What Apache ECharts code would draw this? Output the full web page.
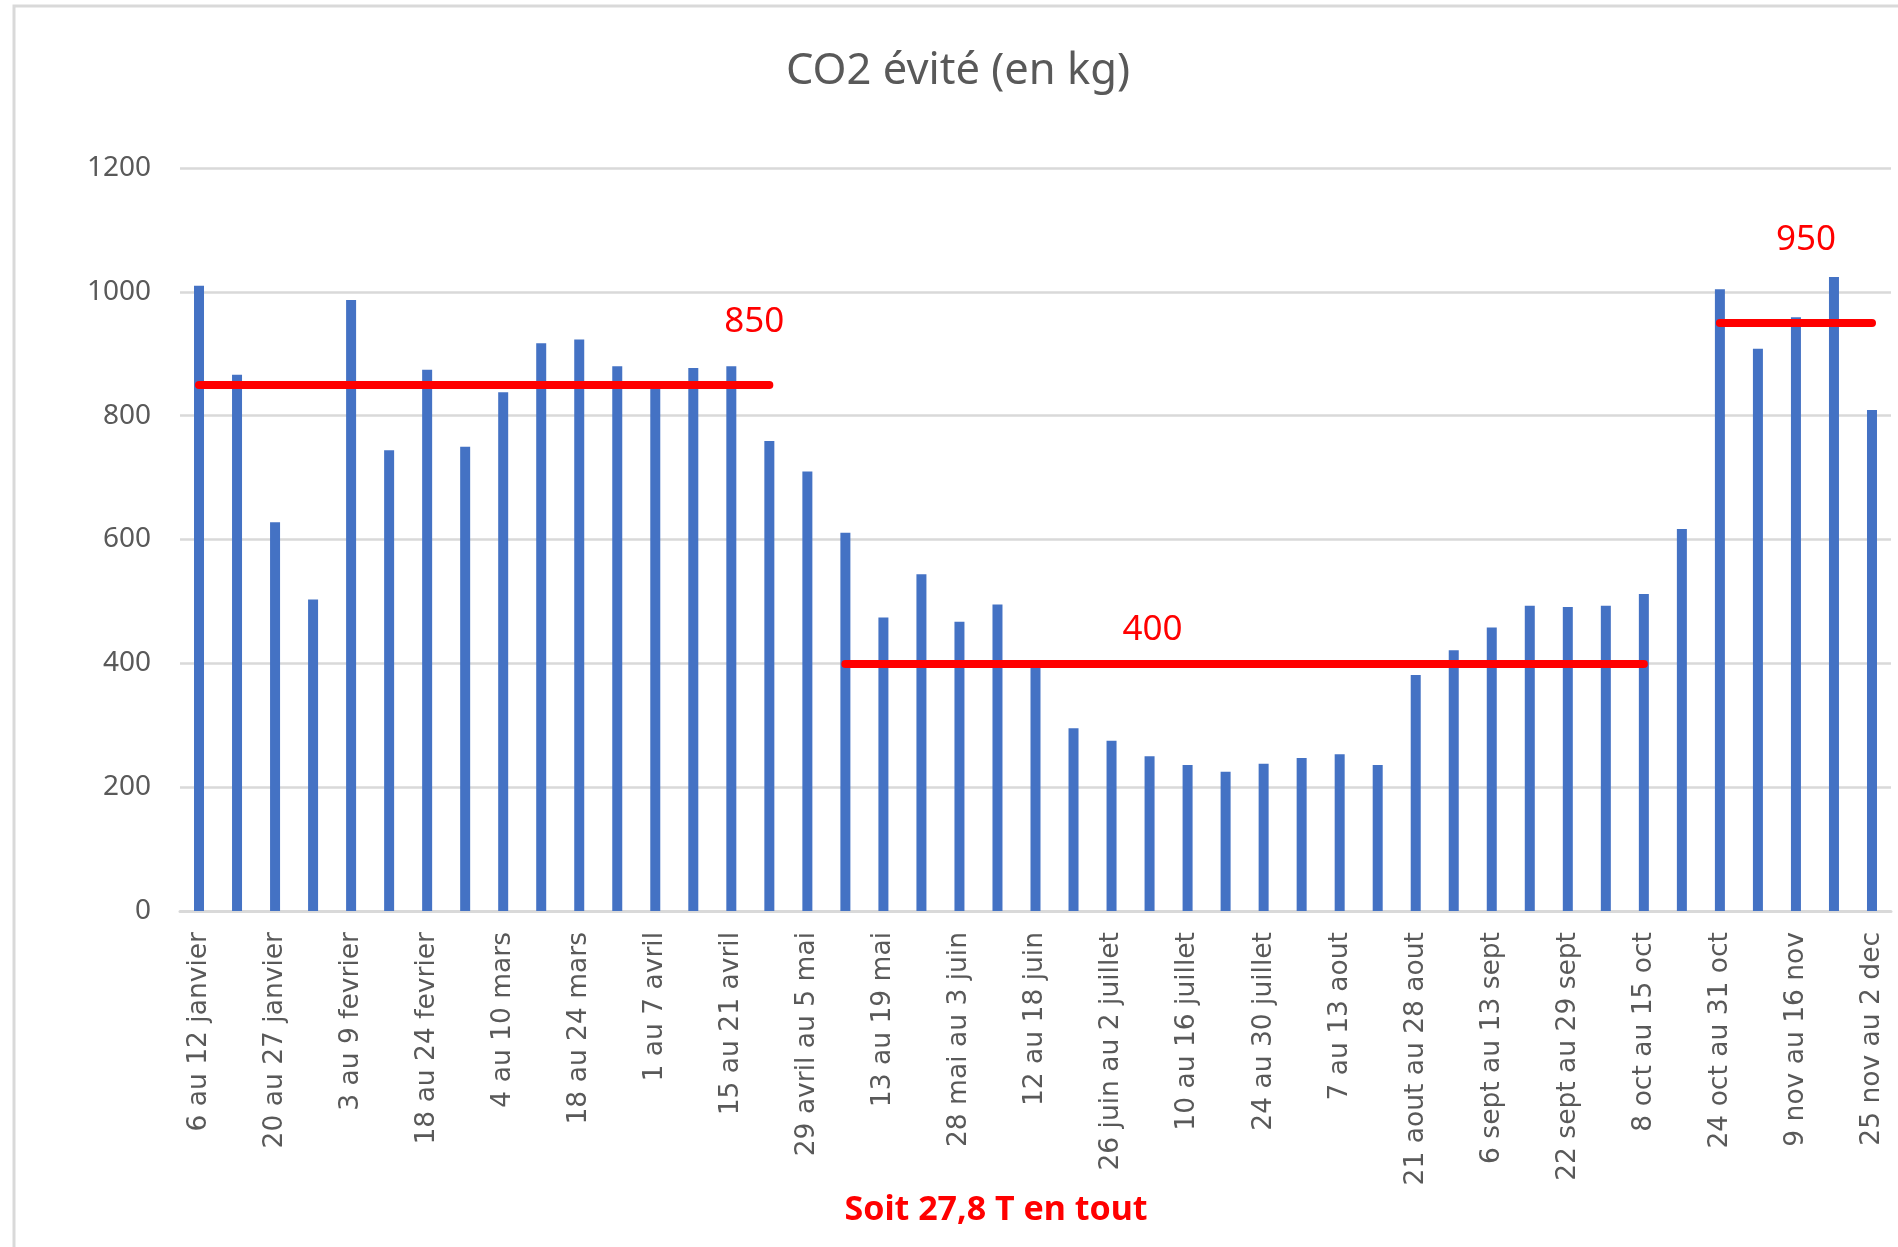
<!DOCTYPE html>
<html>
<head>
<meta charset="utf-8">
<title>CO2 évité</title>
<script src="https://cdn.jsdelivr.net/npm/echarts@6/dist/echarts.min.js"></script>
<style>
  html, body { margin: 0; padding: 0; background: #fff; }
  #chart { width: 1898px; height: 1247px; }
</style>
</head>
<body>
<div id="chart"></div>
<script>
// semaines (une étiquette sur deux est affichée)
var weeks = [
  '6 au 12 janvier', '13 au 19 janvier', '20 au 27 janvier', '28 janvier au 2 fevrier',
  '3 au 9 fevrier', '10 au 17 fevrier', '18 au 24 fevrier', '25 fevrier au 3 mars',
  '4 au 10 mars', '11 au 17 mars', '18 au 24 mars', '25 au 31 mars',
  '1 au 7 avril', '8 au 14 avril', '15 au 21 avril', '22 au 28 avril',
  '29 avril au 5 mai', '6 au 12 mai', '13 au 19 mai', '20 au 27 mai',
  '28 mai au 3 juin', '4 au 11 juin', '12 au 18 juin', '19 au 25 juin',
  '26 juin au 2 juillet', '3 au 9 juillet', '10 au 16 juillet', '17 au 23 juillet',
  '24 au 30 juillet', '31 juillet au 6 aout', '7 au 13 aout', '14 au 20 aout',
  '21 aout au 28 aout', '29 aout au 5 sept', '6 sept au 13 sept', '14 sept au 21 sept',
  '22 sept au 29 sept', '30 sept au 7 oct', '8 oct au 15 oct', '16 oct au 23 oct',
  '24 oct au 31 oct', '1 nov au 8 nov', '9 nov au 16 nov', '17 nov au 24 nov',
  '25 nov au 2 dec'
]

// CO2 évité par semaine (kg)
var co2 = [
  1010, 866, 628, 503, 987, 744, 874, 750, 838, 917,
  923, 880, 848, 877, 880, 759, 710, 611, 474, 544,
  467, 495, 398, 295, 275, 250, 236, 225, 238, 247,
  253, 236, 381, 421, 458, 493, 491, 493, 512, 617,
  1004, 908, 959, 1024, 809
]

// moyennes par période : niveau, première et dernière semaine (index)
var levels = [850, 400, 950]
var levelFrom = [0, 17, 40]
var levelTo = [15, 38, 44]
var levelLabelWeek = [15, 25, 42]

var yTicks = { min: 0, max: 1200, interval: 200 }

var grey = '#595959'
var red = '#ff0000'

var chart = echarts.init(document.getElementById('chart'))

var lineData = levels.map(function (v, i) {
  return [{ coord: [weeks[levelFrom[i]], v] }, { coord: [weeks[levelTo[i]], v] }]
})
var labelOffsets = [[-15, -63], [3, -33], [10, -83]]
var pointData = levels.map(function (v, i) {
  return {
    coord: [weeks[levelLabelWeek[i]], v],
    value: v,
    label: { offset: labelOffsets[i] }
  }
})

chart.setOption({
  animation: false,
  title: [{
    text: 'CO2 évité (en kg)',
    left: 958,
    top: 50,
    padding: 0,
    textAlign: 'center',
    textStyle: { fontFamily: 'Noto Sans', fontSize: 43.5, fontWeight: 'normal', color: grey }
  }, {
    text: 'Soit 27,8 T en tout',
    left: 996,
    top: 1193,
    padding: 0,
    textAlign: 'center',
    textStyle: { fontFamily: 'Noto Sans', fontSize: 34, fontWeight: 'bold', color: red }
  }],
  graphic: [{
    type: 'rect',
    z: -1,
    shape: { x: 14, y: 6, width: 1900, height: 1300 },
    style: { fill: 'none', stroke: '#d9d9d9', lineWidth: 3 }
  }],
  grid: { left: 180, right: 7, top: 168, bottom: 336 },
  xAxis: {
    type: 'category',
    data: weeks,
    axisLine: { lineStyle: { color: '#d9d9d9', width: 3 } },
    axisTick: { show: false },
    axisLabel: {
      interval: 1,
      rotate: 90,
      margin: 21,
      fontFamily: 'DejaVu Sans',
      fontSize: 26.5,
      color: grey
    }
  },
  yAxis: {
    type: 'value',
    min: yTicks.min,
    max: yTicks.max,
    interval: yTicks.interval,
    axisLine: { show: false },
    axisTick: { show: false },
    axisLabel: {
      margin: 29,
      fontFamily: 'Noto Sans',
      fontSize: 28,
      color: grey,
      formatter: function (v) { return String(v) }
    },
    splitLine: { lineStyle: { color: '#d9d9d9', width: 2.5 } }
  },
  series: [{
    type: 'bar',
    name: 'CO2 évité',
    data: co2,
    barWidth: 10,
    itemStyle: { color: '#4472c4' },
    markLine: {
      silent: true,
      symbol: ['none', 'none'],
      label: { show: false },
      lineStyle: { color: red, width: 8, type: 'solid', cap: 'round' },
      data: lineData
    },
    markPoint: {
      silent: true,
      symbol: 'rect',
      symbolSize: 1,
      itemStyle: { color: 'rgba(0,0,0,0)' },
      label: {
        show: true,
        position: 'inside',
        formatter: '{c}',
        fontFamily: 'Noto Sans',
        fontSize: 35,
        color: red
      },
      data: pointData
    }
  }]
})
</script>
</body>
</html>
